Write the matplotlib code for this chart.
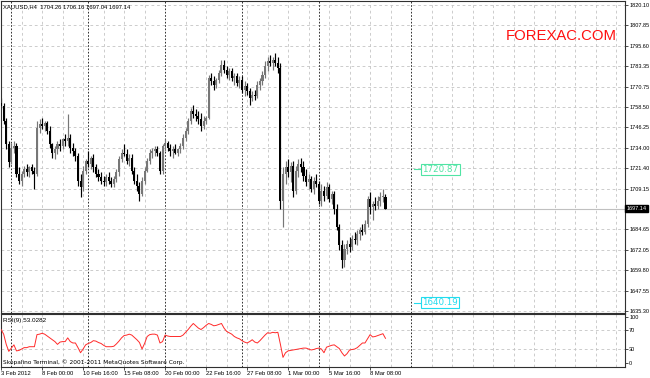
import matplotlib
matplotlib.use("Agg")
import matplotlib.pyplot as plt
import numpy as np

plt.rcParams['lines.scale_dashes'] = False
plt.rcParams['font.family'] = ['DejaVu Sans']

W, H = 650, 378

# XAUUSD H4 candles, 3 Feb 2012 08:00 .. 9 Mar 2012 08:00
opens = [1761, 1759, 1750, 1736, 1725, 1734, 1735, 1718, 1714, 1718,
         1721, 1719, 1722, 1720, 1718, 1746, 1748, 1747, 1749, 1744,
         1736, 1731, 1733, 1736, 1735, 1739, 1738, 1740, 1734, 1732,
         1729, 1714, 1710, 1720, 1726, 1724, 1728, 1722, 1718, 1716,
         1714, 1713, 1716, 1714, 1712, 1715, 1719, 1727, 1731, 1730,
         1726, 1728, 1720, 1714, 1711, 1706, 1714, 1720, 1726, 1731,
         1732, 1733, 1731, 1720, 1735, 1737, 1734, 1732, 1733, 1731,
         1733, 1735, 1740, 1744, 1750, 1756, 1754, 1753, 1751, 1747,
         1750, 1752, 1776, 1774, 1772, 1775, 1779, 1784, 1781, 1778,
         1780, 1776, 1777, 1773, 1775, 1769, 1771, 1768, 1764, 1766,
         1765, 1772, 1774, 1778, 1783, 1786, 1785, 1787, 1785, 1782,
         1702, 1718, 1722, 1719, 1723, 1708, 1720, 1724, 1722, 1717,
         1713, 1715, 1709, 1714, 1712, 1702, 1708, 1705, 1710, 1703,
         1706, 1697, 1686, 1675, 1666, 1673, 1676, 1674, 1679, 1678,
         1682, 1684, 1683, 1688, 1703, 1698, 1700, 1699, 1702, 1704,
         1704.26]
highs = [1764, 1761, 1752, 1738, 1737, 1738, 1737, 1722, 1720, 1723,
         1724, 1723, 1724, 1722, 1750, 1751, 1752, 1750, 1750, 1747,
         1737, 1735, 1738, 1739, 1740, 1742, 1754, 1742, 1737, 1734,
         1731, 1718, 1723, 1727, 1732, 1729, 1730, 1724, 1721, 1719,
         1717, 1718, 1719, 1716, 1717, 1721, 1729, 1733, 1736, 1733,
         1730, 1730, 1722, 1718, 1713, 1716, 1722, 1728, 1733, 1734,
         1735, 1735, 1732, 1736, 1739, 1738, 1736, 1735, 1736, 1734,
         1737, 1742, 1746, 1752, 1758, 1760, 1757, 1756, 1755, 1753,
         1753, 1778, 1779, 1777, 1776, 1781, 1787, 1787, 1783, 1782,
         1782, 1779, 1779, 1777, 1777, 1774, 1773, 1770, 1768, 1769,
         1774, 1776, 1780, 1786, 1789, 1790, 1789, 1791, 1789, 1785,
         1722, 1726, 1727, 1725, 1726, 1723, 1727, 1728, 1726, 1721,
         1718, 1717, 1716, 1718, 1714, 1712, 1711, 1713, 1712, 1708,
         1708, 1700, 1688, 1678, 1676, 1678, 1680, 1681, 1683, 1684,
         1686, 1688, 1690, 1705, 1707, 1702, 1704, 1705, 1707, 1709,
         1706.16]
lows = [1757, 1748, 1733, 1722, 1724, 1731, 1716, 1712, 1711, 1716,
        1717, 1716, 1718, 1709, 1717, 1743, 1745, 1744, 1742, 1734,
        1728, 1727, 1730, 1732, 1733, 1735, 1735, 1731, 1729, 1726,
        1711, 1704, 1708, 1718, 1722, 1721, 1719, 1716, 1714, 1712,
        1711, 1711, 1712, 1710, 1710, 1713, 1717, 1725, 1729, 1724,
        1723, 1718, 1712, 1708, 1702, 1705, 1712, 1719, 1724, 1728,
        1729, 1729, 1718, 1718, 1732, 1732, 1729, 1728, 1730, 1729,
        1731, 1733, 1738, 1742, 1748, 1752, 1750, 1748, 1744, 1745,
        1748, 1751, 1772, 1769, 1770, 1773, 1777, 1779, 1776, 1775,
        1774, 1772, 1771, 1770, 1767, 1765, 1766, 1760, 1762, 1763,
        1764, 1769, 1772, 1776, 1780, 1783, 1781, 1783, 1779, 1697,
        1686, 1712, 1716, 1713, 1704, 1706, 1716, 1719, 1714, 1711,
        1709, 1707, 1706, 1710, 1700, 1699, 1702, 1703, 1701, 1700,
        1694, 1684, 1672, 1661, 1662, 1670, 1671, 1672, 1676, 1675,
        1678, 1681, 1682, 1686, 1694, 1690, 1696, 1697, 1699, 1701,
        1697.04]
closes = [1759, 1750, 1736, 1725, 1734, 1735, 1718, 1714, 1718, 1721,
          1719, 1722, 1720, 1718, 1746, 1748, 1747, 1749, 1744, 1736,
          1731, 1733, 1736, 1735, 1739, 1738, 1740, 1734, 1732, 1729,
          1714, 1710, 1720, 1726, 1724, 1728, 1722, 1718, 1716, 1714,
          1713, 1716, 1714, 1712, 1715, 1719, 1727, 1731, 1730, 1726,
          1728, 1720, 1714, 1711, 1706, 1714, 1720, 1726, 1731, 1732,
          1733, 1731, 1720, 1735, 1737, 1734, 1732, 1733, 1731, 1733,
          1735, 1740, 1744, 1750, 1756, 1754, 1753, 1751, 1747, 1750,
          1752, 1776, 1774, 1772, 1775, 1779, 1784, 1781, 1778, 1780,
          1776, 1777, 1773, 1775, 1769, 1771, 1768, 1764, 1766, 1765,
          1772, 1774, 1778, 1783, 1786, 1785, 1787, 1785, 1782, 1702,
          1718, 1722, 1719, 1723, 1708, 1720, 1724, 1722, 1717, 1713,
          1715, 1709, 1714, 1712, 1702, 1708, 1705, 1710, 1703, 1706,
          1697, 1686, 1675, 1666, 1673, 1676, 1674, 1679, 1678, 1682,
          1684, 1683, 1688, 1703, 1698, 1700, 1699, 1702, 1704, 1704,
          1697.14]
rsi = [72, 62, 40, 25, 32, 39, 26, 27, 30, 33,
       33, 35, 35, 35, 61, 62, 64, 62, 58, 54,
       50, 46, 40, 45, 46, 46, 54, 46, 43, 43,
       33, 22, 30, 39, 42, 44, 48, 47, 44, 42,
       38, 35, 35, 35, 36, 41, 47, 54, 59, 60,
       62, 60, 55, 50, 44, 30, 42, 57, 61, 62,
       62, 60, 43, 46, 60, 58, 57, 57, 57, 57,
       57, 60, 66, 72, 79, 85, 80, 75, 72, 76,
       81, 85, 83, 80, 81, 83, 85, 75, 68, 65,
       62, 57, 54, 52, 48, 45, 43, 46, 50, 45,
       43, 48, 54, 60, 65, 64, 66, 65, 66, 40,
       12, 22, 26, 27, 28, 29, 30, 31, 32, 32,
       30, 28, 29, 31, 32, 30, 22, 34, 36, 38,
       39, 35, 31, 22, 15, 20, 28, 29, 30, 33,
       38, 43, 43, 52, 61, 56, 57, 59, 61, 63,
       53.0282]

price_ticks = [1820.10, 1807.85, 1795.60, 1783.35, 1770.75, 1758.50, 1746.25, 1734.00,
               1721.40, 1709.15, 1684.65, 1672.05, 1659.80, 1647.55, 1635.30]
rsi_ticks = [0, 30, 70, 100]
date_bars = [0, 16, 32, 48, 64, 80, 96, 112, 128, 144]
date_labels = ["3 Feb 2012", "8 Feb 00:00", "10 Feb 16:00", "15 Feb 08:00", "20 Feb 00:00",
               "22 Feb 16:00", "27 Feb 08:00", "1 Mar 00:00", "5 Mar 16:00", "8 Mar 08:00"]
grid_bars = list(range(0, 244, 8))
week_bars = [4, 34, 64, 94, 124, 160]
level_up = 1720.87
level_dn = 1640.19

NUM_FONT = 'Liberation Sans'


def box(l, t, r, b):
    return [l / W, 1 - b / H, (r - l) / W, (b - t) / H]


def bar_at(px):
    # pixel column -> bar index (bar 0 sits at x=1.1 px, 2.5625 px per bar)
    return (px - 1.1) / 2.5625


fig = plt.figure(figsize=(W / 100, H / 100), dpi=100)
fig.patch.set_facecolor('white')
ax = fig.add_axes(box(1, 1, 625, 313))
ax2 = fig.add_axes(box(1, 314, 625, 367))

grid_kw = dict(color='#c4c4c4', lw=0.6, ls=(0, (2, 2)), zorder=0)
sep_kw = dict(color='#303030', lw=0.7, ls=(0, (1.2, 1.2)), zorder=1)

for a in (ax, ax2):
    a.set_xlim(bar_at(1), bar_at(625))
    for b in grid_bars:
        if b not in week_bars:
            a.axvline(b, **grid_kw)
    for b in week_bars:
        a.axvline(b, **sep_kw)
    for s in a.spines.values():
        s.set_color('#303030')
        s.set_linewidth(0.8)

# main price panel
for p in price_ticks:
    ax.axhline(p, **grid_kw)
ax.axhline(closes[-1], color='#c0c0c0', lw=0.8, zorder=1)

x = np.arange(len(closes))
o = np.array(opens)
c = np.array(closes)
hi = np.array(highs)
lo = np.array(lows)
up = c >= o
bull, bear = '#777777', '#000000'
ax.vlines(x[up], lo[up], hi[up], color=bull, lw=0.85, zorder=2)
ax.vlines(x[~up], lo[~up], hi[~up], color=bear, lw=0.85, zorder=2)
body = np.maximum(np.abs(c - o), 0.5)
ax.bar(x[up], body[up], bottom=o[up], width=0.8, color=bull, lw=0, zorder=3)
ax.bar(x[~up], body[~up], bottom=c[~up], width=0.8, color=bear, lw=0, zorder=3)

ax.set_ylim(1634.09, 1822.52)
ax.set_xticks([])
ax.yaxis.tick_right()
ax.set_yticks(price_ticks)
ax.set_yticklabels([f"{p:.2f}" for p in price_ticks], family=NUM_FONT)
ax.tick_params(axis='y', length=2.2, width=0.6, pad=0.8, labelsize=4.0, colors='#303030',
               labelcolor='black')

ax.text(1.0 + 1.5 / 624, closes[-1], f"{closes[-1]:.2f}", transform=ax.get_yaxis_transform(),
        color='white', fontsize=4.0, family=NUM_FONT, va='center', ha='left', clip_on=False,
        bbox=dict(boxstyle='square,pad=0.2', fc='black', ec='black'))

for price, col in [(level_up, '#50e4a4'), (level_dn, '#22dcee')]:
    ax.plot([bar_at(414), bar_at(420.5)], [price, price], color=col, lw=0.8, zorder=4)
    ax.text(bar_at(422.5), price, f"{price:.2f}", color=col, fontsize=6.3, va='center',
            ha='left', zorder=5,
            bbox=dict(boxstyle='square,pad=0.12', fc='white', ec=col, lw=0.8))

fig.text(3 / W, 1 - 6.5 / H,
         f"XAUUSD,H4  {opens[-1]:.2f} {highs[-1]:.2f} {lows[-1]:.2f} {closes[-1]:.2f}",
         fontsize=4.2, family=NUM_FONT, va='center', ha='left')
fig.text(506 / W, 1 - 36 / H, "FOREXAC.COM", color='#ff1010', fontsize=10.7,
         family='Liberation Sans', va='center', ha='left')

# RSI panel
ax2.set_ylim(-8.7, 105.4)
for lv in (30, 70):
    ax2.axhline(lv, **grid_kw)
ax2.plot(x, rsi, color='#ff2a2a', lw=0.7, zorder=3)
ax2.yaxis.tick_right()
ax2.set_yticks(rsi_ticks)
ax2.set_yticklabels([str(v) for v in rsi_ticks], family=NUM_FONT)
ax2.tick_params(axis='y', length=2.2, width=0.6, pad=0.8, labelsize=4.0, colors='#303030',
                labelcolor='black')
ax2.set_xticks(date_bars)
ax2.set_xticklabels(date_labels, family=NUM_FONT)
ax2.tick_params(axis='x', length=2, width=0.6, pad=0.8, labelsize=4.2, colors='#303030',
                labelcolor='black')
for lab in ax2.get_xticklabels():
    lab.set_ha('left')

fig.text(3 / W, 1 - 320.5 / H, f"RSI(9) {rsi[-1]:.4f}", fontsize=4.6, family=NUM_FONT,
         va='center', ha='left')
fig.text(3 / W, 1 - 362 / H, "Skopalino Terminal, \u00a9 2001-2011 MetaQuotes Software Corp.",
         fontsize=4.2, va='center', ha='left')

fig.savefig("out.png", dpi=100, facecolor='white')
